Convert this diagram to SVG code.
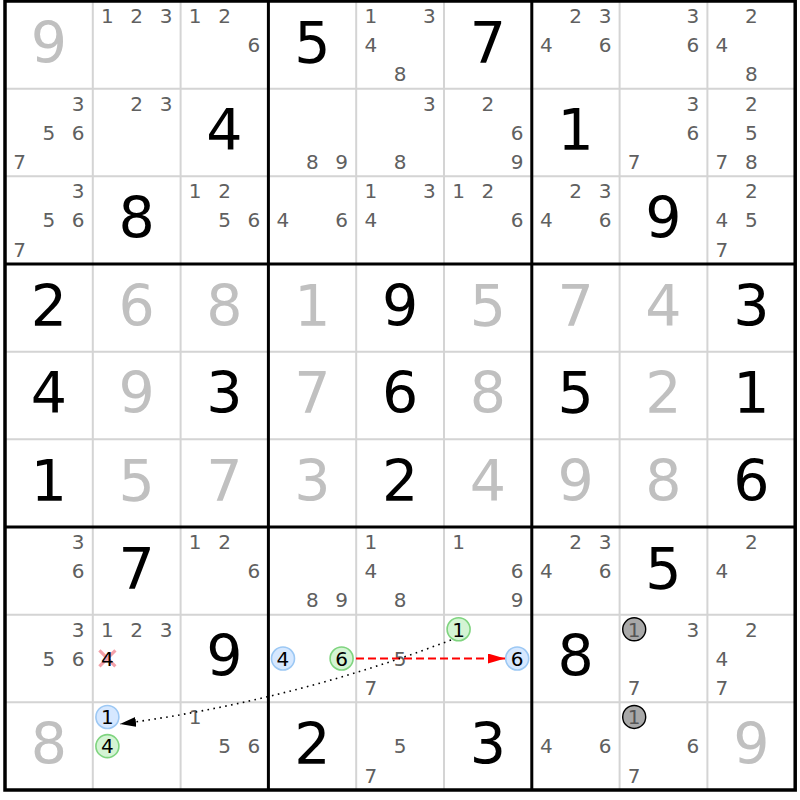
<svg xmlns="http://www.w3.org/2000/svg" width="800" height="800" viewBox="0 0 800 800">
<style>
text{font-family:"DejaVu Sans","Liberation Sans",sans-serif;text-anchor:middle}
.c{font-size:20px;fill:#606060}
.g{font-size:57px;fill:#000}
.s{font-size:57px;fill:#c0c0c0}
.k{font-size:20px;fill:#000}
.kg{font-size:20px;fill:#555}
.thin{stroke:#d4d4d4;stroke-width:2}
.thick{stroke:#000;stroke-width:3}
.cb{fill:#d6e8ff;stroke:#9cc8f4;stroke-width:1.6}
.cg{fill:#d4f4d4;stroke:#7fd47f;stroke-width:1.6}
.cx{fill:#a8a8a8;stroke:#000;stroke-width:1.4}
</style>
<defs>
<marker id="ar" markerUnits="userSpaceOnUse" markerWidth="18" markerHeight="12" refX="17" refY="5" orient="auto"><path d="M0,0 L17,5 L0,10 z" fill="#ff0000"/></marker>
<marker id="ak" markerUnits="userSpaceOnUse" markerWidth="18" markerHeight="12" refX="16" refY="5" orient="auto"><path d="M0,0 L16,5 L0,10 z" fill="#000"/></marker>
</defs>
<rect width="800" height="800" fill="#fff"/>
<g id="grid">
<path class="thin" d="M92.8,1V790M180.6,1V790M356.2,1V790M444,1V790M619.6,1V790M707.4,1V790M5,88.67H795.2M5,176.33H795.2M5,351.67H795.2M5,439.33H795.2M5,614.67H795.2M5,702.33H795.2"/>
<path class="thick" d="M268.4,1V790M531.8,1V790M5,264H795.2M5,527H795.2"/>
<rect x="5" y="1" width="790.2" height="789" fill="none" stroke="#000" stroke-width="3.5"/>
</g>
<!-- Row 1 -->
<g id="r1c1" transform="translate(5,1)"><text class="s" x="43.9" y="61.6">9</text></g>
<g id="r1c2" transform="translate(92.8,1)"><text class="c" x="14.6" y="21.9">1</text><text class="c" x="43.9" y="21.9">2</text><text class="c" x="73.2" y="21.9">3</text></g>
<g id="r1c3" transform="translate(180.6,1)"><text class="c" x="14.6" y="21.9">1</text><text class="c" x="43.9" y="21.9">2</text><text class="c" x="73.2" y="51.1">6</text></g>
<g id="r1c4" transform="translate(268.4,1)"><text class="g" x="43.9" y="61.6">5</text></g>
<g id="r1c5" transform="translate(356.2,1)"><text class="c" x="14.6" y="21.9">1</text><text class="c" x="73.2" y="21.9">3</text><text class="c" x="14.6" y="51.1">4</text><text class="c" x="43.9" y="80.4">8</text></g>
<g id="r1c6" transform="translate(444,1)"><text class="g" x="43.9" y="61.6">7</text></g>
<g id="r1c7" transform="translate(531.8,1)"><text class="c" x="43.9" y="21.9">2</text><text class="c" x="73.2" y="21.9">3</text><text class="c" x="14.6" y="51.1">4</text><text class="c" x="73.2" y="51.1">6</text></g>
<g id="r1c8" transform="translate(619.6,1)"><text class="c" x="73.2" y="21.9">3</text><text class="c" x="73.2" y="51.1">6</text></g>
<g id="r1c9" transform="translate(707.4,1)"><text class="c" x="43.9" y="21.9">2</text><text class="c" x="14.6" y="51.1">4</text><text class="c" x="43.9" y="80.4">8</text></g>
<!-- Row 2 -->
<g id="r2c1" transform="translate(5,88.67)"><text class="c" x="73.2" y="21.9">3</text><text class="c" x="43.9" y="51.1">5</text><text class="c" x="73.2" y="51.1">6</text><text class="c" x="14.6" y="80.4">7</text></g>
<g id="r2c2" transform="translate(92.8,88.67)"><text class="c" x="43.9" y="21.9">2</text><text class="c" x="73.2" y="21.9">3</text></g>
<g id="r2c3" transform="translate(180.6,88.67)"><text class="g" x="43.9" y="61.6">4</text></g>
<g id="r2c4" transform="translate(268.4,88.67)"><text class="c" x="43.9" y="80.4">8</text><text class="c" x="73.2" y="80.4">9</text></g>
<g id="r2c5" transform="translate(356.2,88.67)"><text class="c" x="73.2" y="21.9">3</text><text class="c" x="43.9" y="80.4">8</text></g>
<g id="r2c6" transform="translate(444,88.67)"><text class="c" x="43.9" y="21.9">2</text><text class="c" x="73.2" y="51.1">6</text><text class="c" x="73.2" y="80.4">9</text></g>
<g id="r2c7" transform="translate(531.8,88.67)"><text class="g" x="43.9" y="61.6">1</text></g>
<g id="r2c8" transform="translate(619.6,88.67)"><text class="c" x="73.2" y="21.9">3</text><text class="c" x="73.2" y="51.1">6</text><text class="c" x="14.6" y="80.4">7</text></g>
<g id="r2c9" transform="translate(707.4,88.67)"><text class="c" x="43.9" y="21.9">2</text><text class="c" x="43.9" y="51.1">5</text><text class="c" x="14.6" y="80.4">7</text><text class="c" x="43.9" y="80.4">8</text></g>
<!-- Row 3 -->
<g id="r3c1" transform="translate(5,176.33)"><text class="c" x="73.2" y="21.9">3</text><text class="c" x="43.9" y="51.1">5</text><text class="c" x="73.2" y="51.1">6</text><text class="c" x="14.6" y="80.4">7</text></g>
<g id="r3c2" transform="translate(92.8,176.33)"><text class="g" x="43.9" y="61.6">8</text></g>
<g id="r3c3" transform="translate(180.6,176.33)"><text class="c" x="14.6" y="21.9">1</text><text class="c" x="43.9" y="21.9">2</text><text class="c" x="43.9" y="51.1">5</text><text class="c" x="73.2" y="51.1">6</text></g>
<g id="r3c4" transform="translate(268.4,176.33)"><text class="c" x="14.6" y="51.1">4</text><text class="c" x="73.2" y="51.1">6</text></g>
<g id="r3c5" transform="translate(356.2,176.33)"><text class="c" x="14.6" y="21.9">1</text><text class="c" x="73.2" y="21.9">3</text><text class="c" x="14.6" y="51.1">4</text></g>
<g id="r3c6" transform="translate(444,176.33)"><text class="c" x="14.6" y="21.9">1</text><text class="c" x="43.9" y="21.9">2</text><text class="c" x="73.2" y="51.1">6</text></g>
<g id="r3c7" transform="translate(531.8,176.33)"><text class="c" x="43.9" y="21.9">2</text><text class="c" x="73.2" y="21.9">3</text><text class="c" x="14.6" y="51.1">4</text><text class="c" x="73.2" y="51.1">6</text></g>
<g id="r3c8" transform="translate(619.6,176.33)"><text class="g" x="43.9" y="61.6">9</text></g>
<g id="r3c9" transform="translate(707.4,176.33)"><text class="c" x="43.9" y="21.9">2</text><text class="c" x="14.6" y="51.1">4</text><text class="c" x="43.9" y="51.1">5</text><text class="c" x="14.6" y="80.4">7</text></g>
<!-- Row 4 -->
<g id="r4c1" transform="translate(5,264)"><text class="g" x="43.9" y="61.6">2</text></g>
<g id="r4c2" transform="translate(92.8,264)"><text class="s" x="43.9" y="61.6">6</text></g>
<g id="r4c3" transform="translate(180.6,264)"><text class="s" x="43.9" y="61.6">8</text></g>
<g id="r4c4" transform="translate(268.4,264)"><text class="s" x="43.9" y="61.6">1</text></g>
<g id="r4c5" transform="translate(356.2,264)"><text class="g" x="43.9" y="61.6">9</text></g>
<g id="r4c6" transform="translate(444,264)"><text class="s" x="43.9" y="61.6">5</text></g>
<g id="r4c7" transform="translate(531.8,264)"><text class="s" x="43.9" y="61.6">7</text></g>
<g id="r4c8" transform="translate(619.6,264)"><text class="s" x="43.9" y="61.6">4</text></g>
<g id="r4c9" transform="translate(707.4,264)"><text class="g" x="43.9" y="61.6">3</text></g>
<!-- Row 5 -->
<g id="r5c1" transform="translate(5,351.67)"><text class="g" x="43.9" y="61.6">4</text></g>
<g id="r5c2" transform="translate(92.8,351.67)"><text class="s" x="43.9" y="61.6">9</text></g>
<g id="r5c3" transform="translate(180.6,351.67)"><text class="g" x="43.9" y="61.6">3</text></g>
<g id="r5c4" transform="translate(268.4,351.67)"><text class="s" x="43.9" y="61.6">7</text></g>
<g id="r5c5" transform="translate(356.2,351.67)"><text class="g" x="43.9" y="61.6">6</text></g>
<g id="r5c6" transform="translate(444,351.67)"><text class="s" x="43.9" y="61.6">8</text></g>
<g id="r5c7" transform="translate(531.8,351.67)"><text class="g" x="43.9" y="61.6">5</text></g>
<g id="r5c8" transform="translate(619.6,351.67)"><text class="s" x="43.9" y="61.6">2</text></g>
<g id="r5c9" transform="translate(707.4,351.67)"><text class="g" x="43.9" y="61.6">1</text></g>
<!-- Row 6 -->
<g id="r6c1" transform="translate(5,439.33)"><text class="g" x="43.9" y="61.6">1</text></g>
<g id="r6c2" transform="translate(92.8,439.33)"><text class="s" x="43.9" y="61.6">5</text></g>
<g id="r6c3" transform="translate(180.6,439.33)"><text class="s" x="43.9" y="61.6">7</text></g>
<g id="r6c4" transform="translate(268.4,439.33)"><text class="s" x="43.9" y="61.6">3</text></g>
<g id="r6c5" transform="translate(356.2,439.33)"><text class="g" x="43.9" y="61.6">2</text></g>
<g id="r6c6" transform="translate(444,439.33)"><text class="s" x="43.9" y="61.6">4</text></g>
<g id="r6c7" transform="translate(531.8,439.33)"><text class="s" x="43.9" y="61.6">9</text></g>
<g id="r6c8" transform="translate(619.6,439.33)"><text class="s" x="43.9" y="61.6">8</text></g>
<g id="r6c9" transform="translate(707.4,439.33)"><text class="g" x="43.9" y="61.6">6</text></g>
<!-- Row 7 -->
<g id="r7c1" transform="translate(5,527)"><text class="c" x="73.2" y="21.9">3</text><text class="c" x="73.2" y="51.1">6</text></g>
<g id="r7c2" transform="translate(92.8,527)"><text class="g" x="43.9" y="61.6">7</text></g>
<g id="r7c3" transform="translate(180.6,527)"><text class="c" x="14.6" y="21.9">1</text><text class="c" x="43.9" y="21.9">2</text><text class="c" x="73.2" y="51.1">6</text></g>
<g id="r7c4" transform="translate(268.4,527)"><text class="c" x="43.9" y="80.4">8</text><text class="c" x="73.2" y="80.4">9</text></g>
<g id="r7c5" transform="translate(356.2,527)"><text class="c" x="14.6" y="21.9">1</text><text class="c" x="14.6" y="51.1">4</text><text class="c" x="43.9" y="80.4">8</text></g>
<g id="r7c6" transform="translate(444,527)"><text class="c" x="14.6" y="21.9">1</text><text class="c" x="73.2" y="51.1">6</text><text class="c" x="73.2" y="80.4">9</text></g>
<g id="r7c7" transform="translate(531.8,527)"><text class="c" x="43.9" y="21.9">2</text><text class="c" x="73.2" y="21.9">3</text><text class="c" x="14.6" y="51.1">4</text><text class="c" x="73.2" y="51.1">6</text></g>
<g id="r7c8" transform="translate(619.6,527)"><text class="g" x="43.9" y="61.6">5</text></g>
<g id="r7c9" transform="translate(707.4,527)"><text class="c" x="43.9" y="21.9">2</text><text class="c" x="14.6" y="51.1">4</text></g>
<!-- Row 8 -->
<g id="r8c1" transform="translate(5,614.67)"><text class="c" x="73.2" y="21.9">3</text><text class="c" x="43.9" y="51.1">5</text><text class="c" x="73.2" y="51.1">6</text></g>
<g id="r8c2" transform="translate(92.8,614.67)"><text class="c" x="14.6" y="21.9">1</text><text class="c" x="43.9" y="21.9">2</text><text class="c" x="73.2" y="21.9">3</text><path d="M6.6,35.8L22.6,51.8M22.6,35.8L6.6,51.8" stroke="#f4a0a8" stroke-width="3.2"/><text class="k" x="14.6" y="51.1">4</text></g>
<g id="r8c3" transform="translate(180.6,614.67)"><text class="g" x="43.9" y="61.6">9</text></g>
<g id="r8c4" transform="translate(268.4,614.67)"><circle class="cb" cx="14.6" cy="43.8" r="11.5"/><text class="k" x="14.6" y="51.1">4</text><circle class="cg" cx="73.2" cy="43.8" r="11.5"/><text class="k" x="73.2" y="51.1">6</text></g>
<g id="r8c5" transform="translate(356.2,614.67)"><text class="c" x="43.9" y="51.1">5</text><text class="c" x="14.6" y="80.4">7</text></g>
<g id="r8c6" transform="translate(444,614.67)"><circle class="cg" cx="14.6" cy="14.6" r="11.5"/><text class="k" x="14.6" y="21.9">1</text><circle class="cb" cx="73.2" cy="43.8" r="11.5"/><text class="k" x="73.2" y="51.1">6</text></g>
<g id="r8c7" transform="translate(531.8,614.67)"><text class="g" x="43.9" y="61.6">8</text></g>
<g id="r8c8" transform="translate(619.6,614.67)"><circle class="cx" cx="14.6" cy="14.6" r="11.5"/><text class="kg" x="14.6" y="21.9">1</text><text class="c" x="73.2" y="21.9">3</text><text class="c" x="14.6" y="80.4">7</text></g>
<g id="r8c9" transform="translate(707.4,614.67)"><text class="c" x="43.9" y="21.9">2</text><text class="c" x="14.6" y="51.1">4</text><text class="c" x="14.6" y="80.4">7</text></g>
<!-- Row 9 -->
<g id="r9c1" transform="translate(5,702.33)"><text class="s" x="43.9" y="61.6">8</text></g>
<g id="r9c2" transform="translate(92.8,702.33)"><circle class="cb" cx="14.6" cy="14.6" r="11.5"/><text class="k" x="14.6" y="21.9">1</text><circle class="cg" cx="14.6" cy="43.8" r="11.5"/><text class="k" x="14.6" y="51.1">4</text></g>
<g id="r9c3" transform="translate(180.6,702.33)"><text class="c" x="14.6" y="21.9">1</text><text class="c" x="43.9" y="51.1">5</text><text class="c" x="73.2" y="51.1">6</text></g>
<g id="r9c4" transform="translate(268.4,702.33)"><text class="g" x="43.9" y="61.6">2</text></g>
<g id="r9c5" transform="translate(356.2,702.33)"><text class="c" x="43.9" y="51.1">5</text><text class="c" x="14.6" y="80.4">7</text></g>
<g id="r9c6" transform="translate(444,702.33)"><text class="g" x="43.9" y="61.6">3</text></g>
<g id="r9c7" transform="translate(531.8,702.33)"><text class="c" x="14.6" y="51.1">4</text><text class="c" x="73.2" y="51.1">6</text></g>
<g id="r9c8" transform="translate(619.6,702.33)"><circle class="cx" cx="14.6" cy="14.6" r="11.5"/><text class="kg" x="14.6" y="21.9">1</text><text class="c" x="73.2" y="51.1">6</text><text class="c" x="14.6" y="80.4">7</text></g>
<g id="r9c9" transform="translate(707.4,702.33)"><text class="s" x="43.9" y="61.6">9</text></g>
<g id="connectors">
<path d="M356,658.5H505" fill="none" stroke="#ff0000" stroke-width="2" stroke-dasharray="8,4" marker-end="url(#ak)" style="marker-end:url(#ar)"/>
<path d="M451,640Q288,702 120,724" fill="none" stroke="#000" stroke-width="1.6" stroke-dasharray="1.6,4.4" marker-end="url(#ak)"/>
</g>
</svg>
